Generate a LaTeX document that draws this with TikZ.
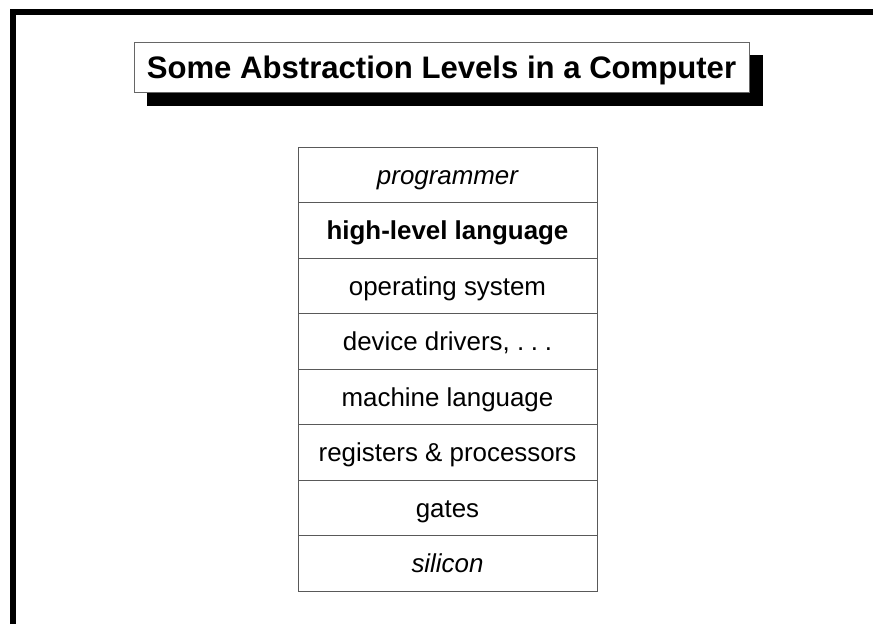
\documentclass[tikz,border=0pt]{standalone}
\usepackage{fontspec}
\setmainfont{Liberation Sans}
\newcommand{\spdots}{.\kern0.26em.\kern0.26em.}
\begin{document}
\begin{tikzpicture}[x=1pt,y=-1pt,
  levelbox/.style={draw=black!65, line width=1pt, minimum width=299pt,
    minimum height=55.5pt, inner sep=0pt, anchor=center,
    font=\fontsize{25.9}{30}\selectfont, text height=18.5pt, text depth=0pt},
  titlebox/.style={draw=black!60, fill=white, line width=1pt,
    minimum width=615pt, minimum height=50pt, inner sep=0pt,
    font=\bfseries\fontsize{31.1}{36}\selectfont, text height=22.3pt, text depth=0pt},
  shadow/.style={fill=black}]
\useasboundingbox (0,0) rectangle (873,624);
% frame
\draw[line width=6pt] (13,624) -- (13,12) -- (873,12);
% title with shadow
\fill[shadow] (147,55) rectangle (763,106);
\node[titlebox] (title) at (441.5,67) {Some Abstraction Levels in a Computer};
% levels
\node[levelbox] (l1) at (447.5,174.75) {\itshape programmer};
\node[levelbox] (l2) at (447.5,230.25) {\bfseries high-level language};
\node[levelbox] (l3) at (447.5,285.75) {operating system};
\node[levelbox] (l4) at (447.5,341.25) {device drivers, \spdots};
\node[levelbox] (l5) at (447.5,396.75) {machine language};
\node[levelbox] (l6) at (447.5,452.25) {registers \& processors};
\node[levelbox] (l7) at (447.5,507.75) {gates};
\node[levelbox] (l8) at (447.5,563.25) {\itshape silicon};
\end{tikzpicture}
\end{document}
